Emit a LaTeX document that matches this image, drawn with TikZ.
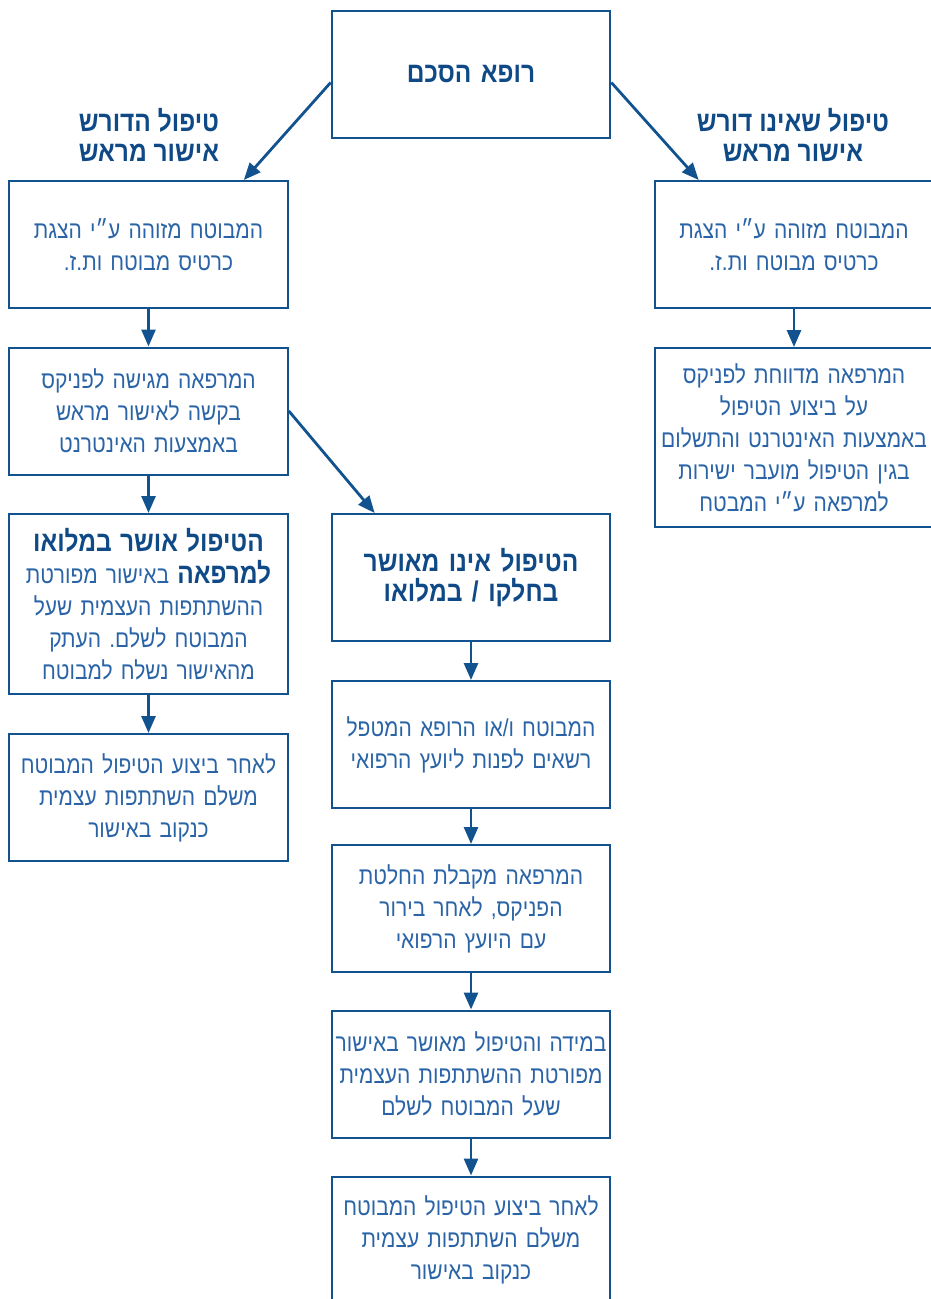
\documentclass[tikz,border=0pt]{standalone}
\usepackage{fontspec}
\usepackage{xcolor}
\usepackage{tikz}
\usetikzlibrary{arrows.meta}
\TeXXeTstate=1
\frenchspacing
\newfontfamily\hebfont[Script=Hebrew, FakeStretch=0.86]{Liberation Sans}
\definecolor{linecol}{HTML}{12538F}
\definecolor{txtcol}{HTML}{2A64A6}
\definecolor{titlecol}{HTML}{0F4A86}
\newcommand{\heb}[1]{\beginR #1\endR}
\newcommand{\hebbf}{\color{titlecol}\bfseries\fontsize{28.5}{32}\selectfont}
\tikzstyle{box} = [draw=linecol, line width=2pt, minimum width=278pt, minimum height=127pt, text width=272pt, align=center, text=txtcol, font=\hebfont\fontsize{24.4}{32}\selectfont]
\tikzstyle{bold} = [text=titlecol, align=center, font=\hebfont\bfseries\fontsize{28.5}{30}\selectfont]
\tikzstyle{arrow} = [line width=2.8pt, draw=linecol, -{Triangle[length=17pt,width=14pt]}]

\begin{document}
\begin{tikzpicture}[x=1pt, y=-1pt]
\useasboundingbox (0,0) rectangle (930,1299);

% top box
\node[box, bold] (doc) at (471,74.5) {\heb{רופא הסכם}};

% branch labels
\node[bold] (needs) at (149,135) {\heb{טיפול הדורש}\\\heb{אישור מראש}};
\node[bold] (noneed) at (793,135) {\heb{טיפול שאינו דורש}\\\heb{אישור מראש}};

% left column
\node[box] (A1) at (148.5,244.5) {\heb{המבוטח מזוהה ע״י הצגת}\\\heb{כרטיס מבוטח ות.ז.}};
\node[box] (A2) at (148.5,411) {\heb{המרפאה מגישה לפניקס}\\\heb{בקשה לאישור מראש}\\\heb{באמצעות האינטרנט}};
\node[box, minimum height=180pt] (A3) at (148.5,604) {{\hebbf\heb{הטיפול אושר במלואו}}\\\heb{באישור מפורטת} {\hebbf\heb{למרפאה}}\\\heb{ההשתתפות העצמית שעל}\\\heb{המבוטח לשלם. העתק}\\\heb{מהאישור נשלח למבוטח}};
\node[box] (A4) at (148.5,797.5) {\heb{לאחר ביצוע הטיפול המבוטח}\\\heb{משלם השתתפות עצמית}\\\heb{כנקוב באישור}};

% right column
\node[box] (B1) at (794,244.5) {\heb{המבוטח מזוהה ע״י הצגת}\\\heb{כרטיס מבוטח ות.ז.}};
\node[box, minimum height=179pt] (B2) at (794,437.5) {\heb{המרפאה מדווחת לפניקס}\\\heb{על ביצוע הטיפול}\\\heb{באמצעות האינטרנט והתשלום}\\\heb{בגין הטיפול מועבר ישירות}\\\heb{למרפאה ע״י המבטח}};

% middle column
\node[box, bold] (M1) at (471,577.5) {\heb{הטיפול אינו מאושר}\\\heb{בחלקו / במלואו}};
\node[box] (M2) at (471,744.5) {\heb{המבוטח ו/או הרופא המטפל}\\\heb{רשאים לפנות ליועץ הרפואי}};
\node[box] (M3) at (471,908.5) {\heb{המרפאה מקבלת החלטת}\\\heb{הפניקס, לאחר בירור}\\\heb{עם היועץ הרפואי}};
\node[box] (M4) at (471,1074) {\heb{במידה והטיפול מאושר באישור}\\\heb{מפורטת ההשתתפות העצמית}\\\heb{שעל המבוטח לשלם}};
\node[box] (M5) at (471,1240) {\heb{לאחר ביצוע הטיפול המבוטח}\\\heb{משלם השתתפות עצמית}\\\heb{כנקוב באישור}};

% arrows
\draw[arrow] ([yshift=-8pt]doc.west) -- ([xshift=-45pt]A1.north east);
\draw[arrow] ([yshift=-8pt]doc.east) -- ([xshift=45pt]B1.north west);
\draw[arrow] (A1) -- (A2);
\draw[arrow] (A2) -- (A3);
\draw[arrow] (A3) -- (A4);
\draw[arrow] (A2.east) -- ([xshift=44pt]M1.north west);
\draw[arrow] (B1) -- (B2);
\draw[arrow] (M1) -- (M2);
\draw[arrow] (M2) -- (M3);
\draw[arrow] (M3) -- (M4);
\draw[arrow] (M4) -- (M5);

\end{tikzpicture}
\end{document}
